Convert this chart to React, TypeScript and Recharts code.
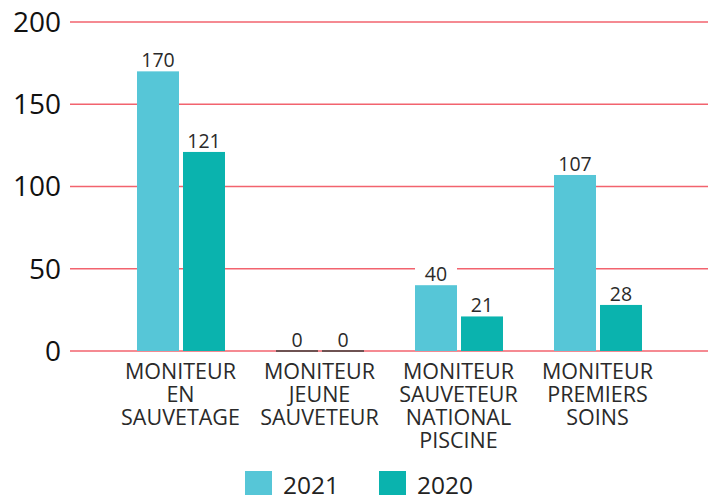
import React from 'react';
import { BarChart, Bar, XAxis, YAxis, CartesianGrid, LabelList } from 'recharts';

const categories = [
  'MONITEUR\nEN\nSAUVETAGE',
  'MONITEUR\nJEUNE\nSAUVETEUR',
  'MONITEUR\nSAUVETEUR\nNATIONAL\nPISCINE',
  'MONITEUR\nPREMIERS\nSOINS',
];
const values2021 = [170, 0, 40, 107];
const values2020 = [121, 0, 21, 28];
const yTicks = [0, 50, 100, 150, 200];
const seriesNames = ['2021', '2020'];
const colors = ['#56C6D7', '#0AB3AE'];

const data = categories.map((c, i) => ({ name: c, v2021: values2021[i], v2020: values2020[i] }));

const FONT = '"Open Sans", "Noto Sans", sans-serif';

const CatTick = (props: any) => {
  const { x, y, payload } = props;
  const lines = String(payload.value).split('\n');
  return (
    <text x={x} y={y} textAnchor="middle" fill="#2a2a2a" fontSize={21.5} fontFamily={FONT}>
      {lines.map((l, i) => (
        <tspan key={i} x={x} y={y + 28 + i * 23}>{l}</tspan>
      ))}
    </text>
  );
};

const BarShape = (props: any) => {
  const { x, y, width, height, fill } = props;
  if (!height || height <= 0.5) {
    return <rect x={x} y={y - 1} width={width} height={2} fill="#6e5252" />;
  }
  return <rect x={x} y={y} width={width} height={height} fill={fill} />;
};

const ValueLabel = (props: any) => {
  const { x, y, width, value } = props;
  return (
    <g>
      <rect x={x} y={y - 22} width={width} height={21} fill="#ffffff" />
      <text x={x + width / 2} y={y - 4} textAnchor="middle" fill="#2a2a2a" fontSize={19.5} fontFamily={FONT}>
        {value}
      </text>
    </g>
  );
};

export default function App() {
  return (
    <div style={{ position: 'absolute', left: 0, top: 0, width: 708, height: 495, background: '#fff', overflow: 'hidden' }}>
      <BarChart
        width={708}
        height={495}
        data={data}
        margin={{ top: 22, right: 0, bottom: 0, left: 0 }}
        barSize={42}
        barGap={4}
      >
        <CartesianGrid horizontal vertical={false} stroke="#F2636E" strokeWidth={1.4} />
        <XAxis
          dataKey="name"
          axisLine={false}
          tickLine={false}
          tickSize={0}
          tickMargin={0}
          height={144}
          padding={{ left: 41, right: 41 }}
          interval={0}
          tick={<CatTick />}
        />
        <YAxis
          domain={[0, 200]}
          ticks={yTicks}
          width={70}
          axisLine={false}
          tickLine={false}
          tickMargin={3}
          tick={{ fill: '#111', fontSize: 28, fontFamily: FONT }}
        />
        <Bar dataKey="v2021" name={seriesNames[0]} fill={colors[0]} isAnimationActive={false} shape={<BarShape />}>
          <LabelList dataKey="v2021" content={<ValueLabel />} />
        </Bar>
        <Bar dataKey="v2020" name={seriesNames[1]} fill={colors[1]} isAnimationActive={false} shape={<BarShape />}>
          <LabelList dataKey="v2020" content={<ValueLabel />} />
        </Bar>
      </BarChart>
      <div style={{ position: 'absolute', left: 245, top: 471, display: 'flex', alignItems: 'center', fontFamily: FONT, fontSize: 24.5, color: '#222', lineHeight: '27px' }}>
        {seriesNames.map((n, i) => (
          <div key={n} style={{ display: 'flex', alignItems: 'center', marginRight: 40 }}>
            <div style={{ width: 27, height: 27, background: colors[i], marginRight: 11 }} />
            <span>{n}</span>
          </div>
        ))}
      </div>
    </div>
  );
}
